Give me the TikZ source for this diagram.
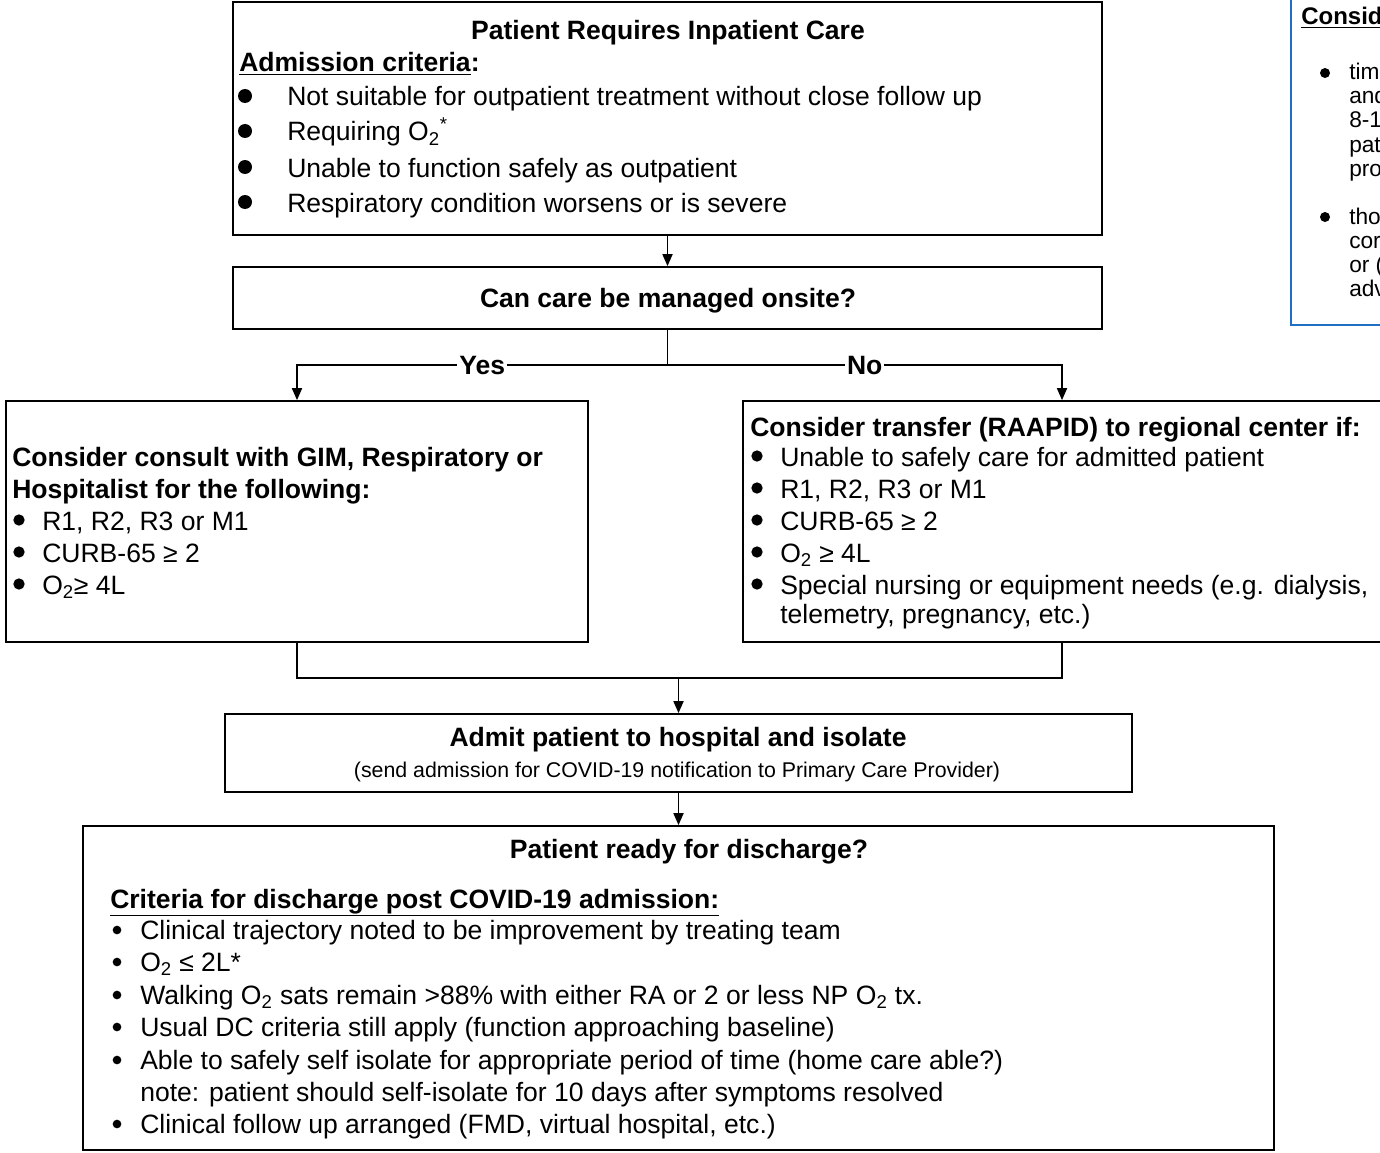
\documentclass[tikz,border=0pt]{standalone}
\usepackage{fontspec}
\setmainfont{Liberation Sans}
\usetikzlibrary{arrows.meta,fit}
\newcommand\fbody{\fontsize{19.9}{24}\selectfont}
\newcommand\fsmall{\fontsize{16}{19}\selectfont}
\newcommand\fnote{\fontsize{17}{20}\selectfont}
\newcommand\fnoteh{\fontsize{18}{21}\selectfont}
\newcommand\Otwo{O\textsubscript{2}}
\definecolor{noteblue}{HTML}{1F6FC5}
\begin{document}
\begin{tikzpicture}[x=0.75pt,y=-0.75pt,
  box/.style={draw=black,line width=1.3pt,inner sep=0pt},
  bluebox/.style={draw=noteblue,line width=1.5pt,inner sep=0pt},
  t/.style={anchor=base west,inner sep=0pt,font=\fbody},
  tb/.style={anchor=base west,inner sep=0pt,font=\fbody\bfseries},
  tc/.style={anchor=base,inner sep=0pt,font=\fbody\bfseries},
  tn/.style={anchor=base west,inner sep=0pt,font=\fnote},
  conn/.style={line width=1.3pt},
  arr/.style={line width=1.3pt,-{Triangle[length=9pt,width=7.5pt]}},
  lab/.style={fill=white,inner sep=1.5pt,font=\fbody\bfseries},
  bul/.style={circle,fill=black,inner sep=0pt,minimum size=#1}]
\useasboundingbox (0,0) rectangle (1380,1152);
\clip (0,0) rectangle (1380,1152);

% boxes
\node (top) [box,fit={(233,2) (1102,235)}] {};
\node (onsite) [box,fit={(233,267) (1102,329)}] {};
\node (left) [box,fit={(6,401) (588,642)}] {};
\node (right) [box,fit={(743,401) (1381,642)}] {};
\node (admit) [box,fit={(225,714) (1132,792)}] {};
\node (dis) [box,fit={(83,826) (1274,1150)}] {};
\node (note) [bluebox,fit={(1291,-10) (1400,325)}] {};

% top box text
\node[tc] (t1) at (668,40) {Patient Requires Inpatient Care};
\node[tb] (t2) at (239,72) {\underline{Admission criteria}:};
\node[t] (t3) at (287,106) {Not suitable for outpatient treatment without close follow up};
\node[t] (t4) at (287,141) {Requiring \Otwo\textsuperscript{*}};
\node[t] (t5) at (287,177) {Unable to function safely as outpatient};
\node[t] (t6) at (287,212) {Respiratory condition worsens or is severe};
\foreach \yy [count=\i] in {96,131,167,202}
  \node[bul=10.5pt] (tb\i) at (245,\yy) {};

% onsite
\node[tc] (o1) at (668,307) {Can care be managed onsite?};

% left box
\node[tb] (l1) at (12,466) {Consider consult with GIM, Respiratory or};
\node[tb] (l2) at (12,498) {Hospitalist for the following:};
\node[t] (l3) at (42,530) {R1, R2, R3 or M1};
\node[t] (l4) at (42,562) {CURB-65 ≥ 2};
\node[t] (l5) at (42,594) {\Otwo≥ 4L};
\foreach \yy [count=\i] in {520,552,584}
  \node[bul=8.5pt] (lb\i) at (19,\yy) {};

% right box
\node[tb] (r1) at (750,436) {Consider transfer (RAAPID) to regional center if:};
\node[t] (r2) at (780,466) {Unable to safely care for admitted patient};
\node[t] (r3) at (780,498) {R1, R2, R3 or M1};
\node[t] (r4) at (780,530) {CURB-65 ≥ 2};
\node[t] (r5) at (780,562) {\Otwo{} ≥ 4L};
\node[t] (r6) at (780,594) {Special nursing or equipment needs (e.g. dialysis,};
\node[t] (r7) at (780,623) {telemetry, pregnancy, etc.)};
\foreach \yy [count=\i] in {456,488,520,552,584}
  \node[bul=8.5pt] (rb\i) at (757,\yy) {};

% admit box
\node[tc] (a1) at (678,746) {Admit patient to hospital and isolate};
\node[anchor=base,inner sep=0pt,font=\fsmall] (a2) at (677,777) {(send admission for COVID-19 notification to Primary Care Provider)};

% discharge box
\node[tc] (d1) at (689,858) {Patient ready for discharge?};
\node[tb] (d2) at (110,908) {\underline{Criteria for discharge post COVID-19 admission:}};
\node[t] (d3) at (140,939) {Clinical trajectory noted to be improvement by treating team};
\node[t] (d4) at (140,971) {\Otwo{} ≤ 2L*};
\node[t] (d5) at (140,1004) {Walking \Otwo{} sats remain >88\% with either RA or 2 or less NP \Otwo{} tx.};
\node[t] (d6) at (140,1036) {Usual DC criteria still apply (function approaching baseline)};
\node[t] (d7) at (140,1069) {Able to safely self isolate for appropriate period of time (home care able?)};
\node[t] (d8) at (140,1101) {note: patient should self-isolate for 10 days after symptoms resolved};
\node[t] (d9) at (140,1133) {Clinical follow up arranged (FMD, virtual hospital, etc.)};
\foreach \yy [count=\i] in {930,962,995,1027,1060,1124}
  \node[bul=6.5pt] (db\i) at (117,\yy) {};

% note box (cut off at the right edge)
\node[anchor=base west,inner sep=0pt,font=\fnoteh\bfseries] (n1) at (1301,25) {\underline{Consid}};
\node[tn] (n2) at (1349,80) {tim};
\node[tn] (n3) at (1349,104) {and};
\node[tn] (n4) at (1349,128) {8-1};
\node[tn] (n5) at (1349,152) {pat};
\node[tn] (n6) at (1349,176) {pro};
\node[tn] (n7) at (1349,224) {tho};
\node[tn] (n8) at (1349,248) {cor};
\node[tn] (n9) at (1349,272) {or (};
\node[tn] (n10) at (1349,296) {adv};
\node[bul=7.5pt] (nb1) at (1325,73) {};
\node[bul=7.5pt] (nb2) at (1325,217) {};

% connectors
\draw[arr] (top.south) -- (onsite.north);
\coordinate (sp) at (667.5,365);
\coordinate (jn) at (678.5,678);
\draw[conn] (onsite.south) -- (sp);
\draw[arr] (sp) -| node[lab,pos=0.25] (yes) {Yes} (left.north);
\draw[arr] (sp) -| node[lab,pos=0.25] (no) {No} (right.north);
\draw[conn] (left.south) |- (jn);
\draw[conn] (right.south) |- (jn);
\draw[arr] (jn) -- (admit.north);
\draw[arr] (admit.south) -- (dis.north);
\end{tikzpicture}
\end{document}
